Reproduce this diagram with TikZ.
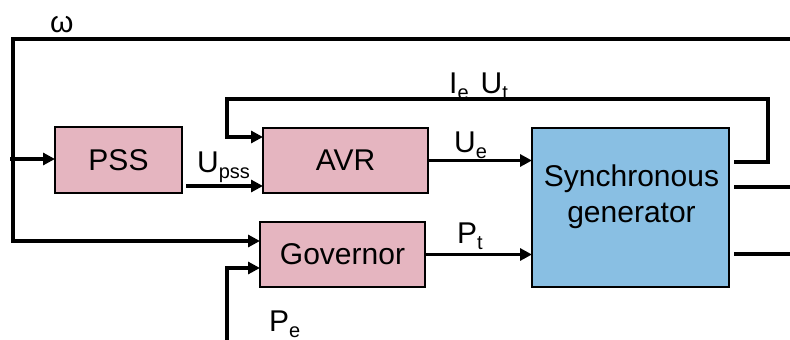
\documentclass[tikz,border=0pt]{standalone}
\usepackage{fontspec}
\setmainfont{Liberation Sans}
\usetikzlibrary{arrows.meta}
\definecolor{blockpink}{RGB}{229,181,192}
\definecolor{genblue}{RGB}{137,191,227}
% signal name with a lowered, smaller index
\newcommand{\signame}[2]{#1\raisebox{-6pt}{\fontsize{20}{20}\selectfont #2}}
\begin{document}
\begin{tikzpicture}[x=1pt,y=-1pt,
  block/.style={draw=black, line width=2.6pt, fill=blockpink,
    font=\fontsize{30}{36}\selectfont, inner sep=0pt, outer sep=0pt},
  wire/.style={line width=3.2pt, line join=miter},
  feed/.style={wire, -{Triangle[length=12pt,width=12pt]}},
  siglabel/.style={font=\fontsize{30}{30}\selectfont, inner sep=0pt, anchor=base west}]
\useasboundingbox (0,0) rectangle (790,340);

% blocks
\node[block, minimum width=127pt, minimum height=66pt] (pss) at (118.5,160) {PSS};
\node[block, minimum width=165pt, minimum height=65pt] (avr) at (345.5,160.5) {AVR};
\node[block, minimum width=165pt, minimum height=65pt] (gov) at (342.5,254.5) {Governor};
\node[block, fill=genblue, minimum width=197pt, minimum height=159pt] (gen) at (630.5,207.5) {};
\node[font=\fontsize{30}{36}\selectfont, align=center, inner sep=0pt] (gentext) at (631.5,197) {Synchronous\\generator};

% speed feedback loop
\coordinate (wR) at (790,39);
\coordinate (wL) at (13,39);
\coordinate (wB) at (13,241);
\draw[feed] (wR) -- (wL) -- (wB) -- (gov.west |- wB);
\coordinate (pin) at (10,159);
\draw[feed] (pin) -- (pin -| pss.west);

% PSS to AVR
\coordinate (uo) at (186,186);
\draw[feed] (uo) -- (uo -| avr.west);

% AVR and governor outputs
\draw[feed] (avr.east) -- (avr.east -| gen.west);
\draw[feed] (gov.east) -- (gov.east -| gen.west);

% terminal feedback to the AVR
\coordinate (fo) at (734,162);
\coordinate (fr) at (768,99);
\coordinate (fk) at (227,99);
\coordinate (fa) at (227,137);
\draw[feed] (fo) -| (fr) -- (fk) -- (fa) -- (fa -| avr.west);

% generator outputs
\coordinate (o1) at (734,187);
\coordinate (o1e) at (790,187);
\coordinate (o2) at (734,254);
\coordinate (o2e) at (790,254);
\draw[wire] (o1) -- (o1e);
\draw[wire] (o2) -- (o2e);

% electrical power into the governor
\coordinate (pb) at (227,340);
\coordinate (pc) at (227,268);
\draw[feed] (pb) -- (pc) -- (pc -| gov.west);

% signal labels
\node[siglabel] (lw) at (50,32) {ω};
\node[siglabel] (lupss) at (197,172) {\signame{U}{pss}};
\node[siglabel] (lue) at (454,152) {\signame{U}{e}};
\node[siglabel] (lie) at (449,93) {\signame{I}{e}\hspace{12pt}\signame{U}{t}};
\node[siglabel] (lpt) at (457,243) {\signame{P}{t}};
\node[siglabel] (lpe) at (269,331) {\signame{P}{e}};
\end{tikzpicture}
\end{document}
